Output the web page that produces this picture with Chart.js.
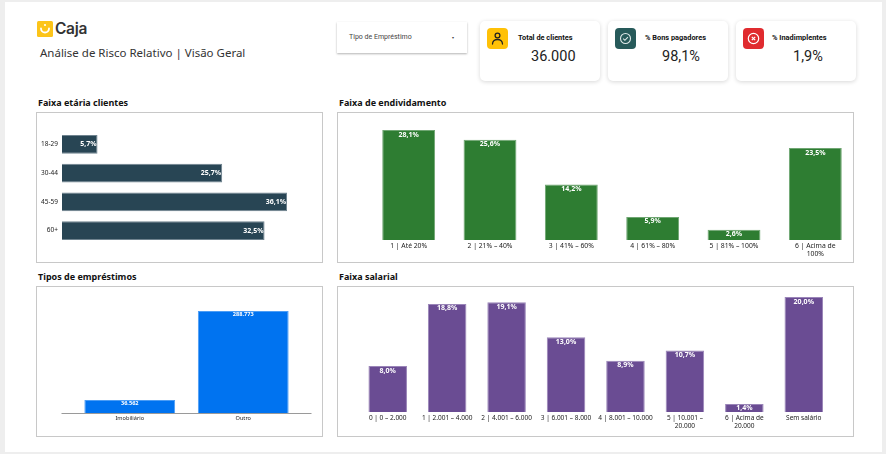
<!DOCTYPE html>
<html lang="pt-BR">
<head>
<meta charset="utf-8">
<title>Caja | Análise de Risco Relativo</title>
<script src="https://cdn.jsdelivr.net/npm/chart.js@4/dist/chart.umd.min.js"></script>
<style>
  html, body { margin: 0; padding: 0; }
  body { width: 886px; height: 454px; background: #eeeeee; overflow: hidden; position: relative; font-family: "Noto Sans", sans-serif; }
  .page { position: absolute; left: 5px; top: 2px; width: 877px; height: 450px; background: #fff; }
  .abs { position: absolute; white-space: nowrap; }
  .logoText { left: 55px; top: 18px; font: 600 15.5px/22px Inter, sans-serif; color: #333; letter-spacing: -0.3px; }
  .subtitle { left: 40px; top: 44px; font: 11.5px/18px "Noto Sans", sans-serif; color: #333; }
  .panelTitle { font: 700 9px/12px "Noto Sans", sans-serif; color: #111; }
  .panel { position: absolute; box-sizing: border-box; border: 1px solid #c8c8c8; background: #fff; }
  .panel canvas { position: absolute; left: 0; top: 0; }
  .dropdown { left: 337px; top: 22px; width: 130px; height: 31px; background: #fff; box-shadow: 0 1px 2px rgba(0,0,0,.3); }
  .dropdown span { position: absolute; top: 10px; font: 7px/11px Roboto, sans-serif; color: #444; }
  .card { position: absolute; top: 21px; width: 120px; height: 60px; background: #fff; border-radius: 5px; box-shadow: 0 1px 4px rgba(0,0,0,.16); }
  .card svg { position: absolute; left: 7px; top: 7px; }
  .card .label { left: 38px; top: 11px; font: 700 7.4px/11px Roboto, sans-serif; color: #111; }
  .card .value { top: 26px; font: 14.5px/20px Roboto, sans-serif; color: #222; }
</style>
</head>
<body>
<div class="page"></div>

<svg class="abs" style="left:37px;top:21px" width="16" height="16" viewBox="0 0 16 16">
  <rect width="16" height="16" rx="1.5" fill="#fcc419"/>
  <path d="M4 7.5a4 4 0 0 0 8 0" fill="none" stroke="#fff" stroke-width="1.8" stroke-linecap="round"/>
  <circle cx="8" cy="4" r="1.1" fill="#fff"/>
</svg>
<div class="abs logoText">Caja</div>
<div class="abs subtitle">Análise de Risco Relativo | Visão Geral</div>

<div class="abs dropdown"><span style="left:12px">Tipo de Empréstimo</span><span style="left:115px;font-size:4px">▾</span></div>

<div class="card" style="left:480px">
  <svg width="21" height="21" viewBox="0 0 21 21">
    <rect width="21" height="21" rx="4" fill="#ffc107"/>
    <circle cx="10.5" cy="7.5" r="2.4" fill="none" stroke="#222" stroke-width="1.3"/>
    <path d="M5.5 16c0-6 10-6 10 0" fill="none" stroke="#222" stroke-width="1.3" stroke-linecap="round"/>
  </svg>
  <div class="abs label">Total de clientes</div>
  <div class="abs value" style="left:51px">36.000</div>
</div>
<div class="card" style="left:608px">
  <svg width="21" height="21" viewBox="0 0 21 21">
    <rect width="21" height="21" rx="4" fill="#275a5a"/>
    <circle cx="10.5" cy="10.5" r="5" fill="none" stroke="#dfe9e9" stroke-width="1.1"/>
    <path d="M8.2 10.6l1.7 1.7 3-3.2" fill="none" stroke="#dfe9e9" stroke-width="1.1"/>
  </svg>
  <div class="abs label" style="left:37px">% Bons pagadores</div>
  <div class="abs value" style="left:54px">98,1%</div>
</div>
<div class="card" style="left:736px">
  <svg width="21" height="21" viewBox="0 0 21 21">
    <rect width="21" height="21" rx="4" fill="#e02b2f"/>
    <circle cx="10.5" cy="10.5" r="5.2" fill="none" stroke="#fff" stroke-width="1.2"/>
    <path d="M8.8 8.8l3.4 3.4M12.2 8.8l-3.4 3.4" stroke="#fff" stroke-width="1.2"/>
  </svg>
  <div class="abs label" style="left:36px">% Inadimplentes</div>
  <div class="abs value" style="left:57px">1,9%</div>
</div>

<div class="abs panelTitle" style="left:38px;top:97px">Faixa etária clientes</div>
<div class="abs panelTitle" style="left:339px;top:97px">Faixa de endividamento</div>
<div class="abs panelTitle" style="left:38px;top:271px">Tipos de empréstimos</div>
<div class="abs panelTitle" style="left:339px;top:271px">Faixa salarial</div>

<div class="panel" style="left:36px;top:112px;width:287px;height:151px"><canvas id="idadeChart"></canvas></div>
<div class="panel" style="left:337px;top:112px;width:517px;height:151px"><canvas id="dividaChart"></canvas></div>
<div class="panel" style="left:36px;top:286px;width:287px;height:151px"><canvas id="emprestimoChart"></canvas></div>
<div class="panel" style="left:337px;top:286px;width:517px;height:151px"><canvas id="salarioChart"></canvas></div>

<script>
const faixasIdade = ["18-29", "30-44", "45-59", "60+"];
const valoresIdade = [5.7, 25.7, 36.1, 32.5];

const faixasDivida = ["1 | Até 20%", "2 | 21% – 40%", "3 | 41% – 60%", "4 | 61% – 80%", "5 | 81% – 100%", ["6 | Acima de", "100%"]];
const valoresDivida = [28.1, 25.6, 14.2, 5.9, 2.6, 23.5];

const tiposEmprestimo = ["Imobiliário", "Outro"];
const valoresEmprestimo = [36562, 288773];

const faixasSalario = ["0 | 0 – 2.000", "1 | 2.001 – 4.000", "2 | 4.001 – 6.000", "3 | 6.001 – 8.000", "4 | 8.001 – 10.000", ["5 | 10.001 –", "20.000"], ["6 | Acima de", "20.000"], "Sem salário"];
const valoresSalario = [8.0, 18.8, 19.1, 13.0, 8.9, 10.7, 1.4, 20.0];

const formatoPct = v => v.toFixed(1).replace(".", ",") + "%";
const formatoInt = v => v.toLocaleString("pt-BR");

Chart.defaults.animation = false;
Chart.defaults.responsive = false;
Chart.defaults.font.family = "'Noto Sans', sans-serif";

// rótulos brancos dentro da barra
const rotulosBarra = {
    id: "rotulosBarra",
    afterDatasetsDraw(chart, args, opts) {
        const ctx = chart.ctx;
        const horizontal = chart.options.indexAxis === "y";
        ctx.save();
        ctx.fillStyle = "#fff";
        ctx.font = `700 ${opts.size}px 'Noto Sans', sans-serif`;
        ctx.textAlign = horizontal ? "right" : "center";
        ctx.textBaseline = horizontal ? "middle" : "top";
        chart.getDatasetMeta(0).data.forEach((bar, i) => {
            const text = opts.format(chart.data.datasets[0].data[i]);
            if (horizontal) ctx.fillText(text, bar.x - 1, bar.y);
            else ctx.fillText(text, bar.x, bar.y + 1);
        });
        ctx.restore();
    }
};

// linha de base mais larga que a área das barras
const linhaBase = {
    id: "linhaBase",
    afterDatasetsDraw(chart, args, opts) {
        if (!opts.extend) return;
        const { ctx, chartArea } = chart;
        ctx.save();
        ctx.strokeStyle = "#9a9a9a";
        ctx.lineWidth = 1;
        ctx.beginPath();
        ctx.moveTo(chartArea.left - opts.extend, chartArea.bottom + 0.5);
        ctx.lineTo(chartArea.right + opts.extend, chartArea.bottom + 0.5);
        ctx.stroke();
        ctx.restore();
    }
};

function criarGrafico(id, cfg) {
    const canvas = document.getElementById(id);
    const panel = canvas.parentElement;
    // a área das barras pode passar um pouco da borda do painel
    const largura = panel.clientWidth + (cfg.extraWidth || 0);
    canvas.width = largura;
    canvas.height = panel.clientHeight;
    canvas.style.width = largura + "px";
    canvas.style.height = panel.clientHeight + "px";

    const horizontal = cfg.horizontal === true;
    const catAxis = {
        type: "category",
        offset: true,
        grid: { display: false, drawTicks: false },
        border: { display: false },
        ticks: {
            autoSkip: false, maxRotation: 0, minRotation: 0, padding: horizontal ? 4 : 2,
            color: "#222", font: { size: cfg.tickSize || 6.8 }
        },
        afterFit(scale) {
            if (horizontal) scale.width = cfg.padding.left;
            else scale.height = cfg.padding.bottom;
        }
    };
    const valAxis = { display: false, min: 0, max: cfg.max, grid: { display: false } };

    return new Chart(canvas, {
        type: "bar",
        data: {
            labels: cfg.labels,
            datasets: [{
                data: cfg.values,
                backgroundColor: cfg.color,
                borderColor: cfg.border,
                borderWidth: 1,
                categoryPercentage: 1,
                barPercentage: cfg.barPercentage
            }]
        },
        options: {
            indexAxis: horizontal ? "y" : "x",
            devicePixelRatio: 1,
            layout: {
                padding: horizontal
                    ? { left: 0, right: cfg.padding.right, top: cfg.padding.top, bottom: cfg.padding.bottom }
                    : { left: cfg.padding.left, right: cfg.padding.right, top: cfg.padding.top, bottom: 0 }
            },
            scales: horizontal ? { y: catAxis, x: valAxis } : { x: catAxis, y: valAxis },
            plugins: {
                legend: { display: false },
                tooltip: { enabled: false },
                rotulosBarra: { size: cfg.labelSize || 7, format: cfg.format },
                linhaBase: { extend: cfg.extend || 0 }
            }
        },
        plugins: [rotulosBarra, linhaBase]
    });
}

criarGrafico("idadeChart", {
    horizontal: true,
    labels: faixasIdade, values: valoresIdade, max: 36.1,
    color: "#284554", border: "#6f838f", barPercentage: 0.66,
    padding: { left: 25, right: 35, top: 17, bottom: 17 },
    tickSize: 6.5,
    format: formatoPct
});
criarGrafico("dividaChart", {
    labels: faixasDivida, values: valoresDivida, max: 28.1,
    color: "#2e7d32", border: "#6fa672", barPercentage: 0.65,
    padding: { left: 30, right: 0, top: 17, bottom: 22 },
    extraWidth: 3,
    format: formatoPct
});
criarGrafico("emprestimoChart", {
    labels: tiposEmprestimo, values: valoresEmprestimo, max: 288773,
    color: "#0073f0", border: "#4c9df5", barPercentage: 0.8,
    padding: { left: 36, right: 22, top: 24, bottom: 23 },
    extend: 11.5, tickSize: 5.6, labelSize: 5.6,
    format: formatoInt
});
criarGrafico("salarioChart", {
    labels: faixasSalario, values: valoresSalario, max: 20,
    color: "#6a4c93", border: "#9a85b8", barPercentage: 0.648,
    padding: { left: 20, right: 19.5, top: 10, bottom: 24 },
    tickSize: 6.5,
    format: formatoPct
});
</script>
</body>
</html>
